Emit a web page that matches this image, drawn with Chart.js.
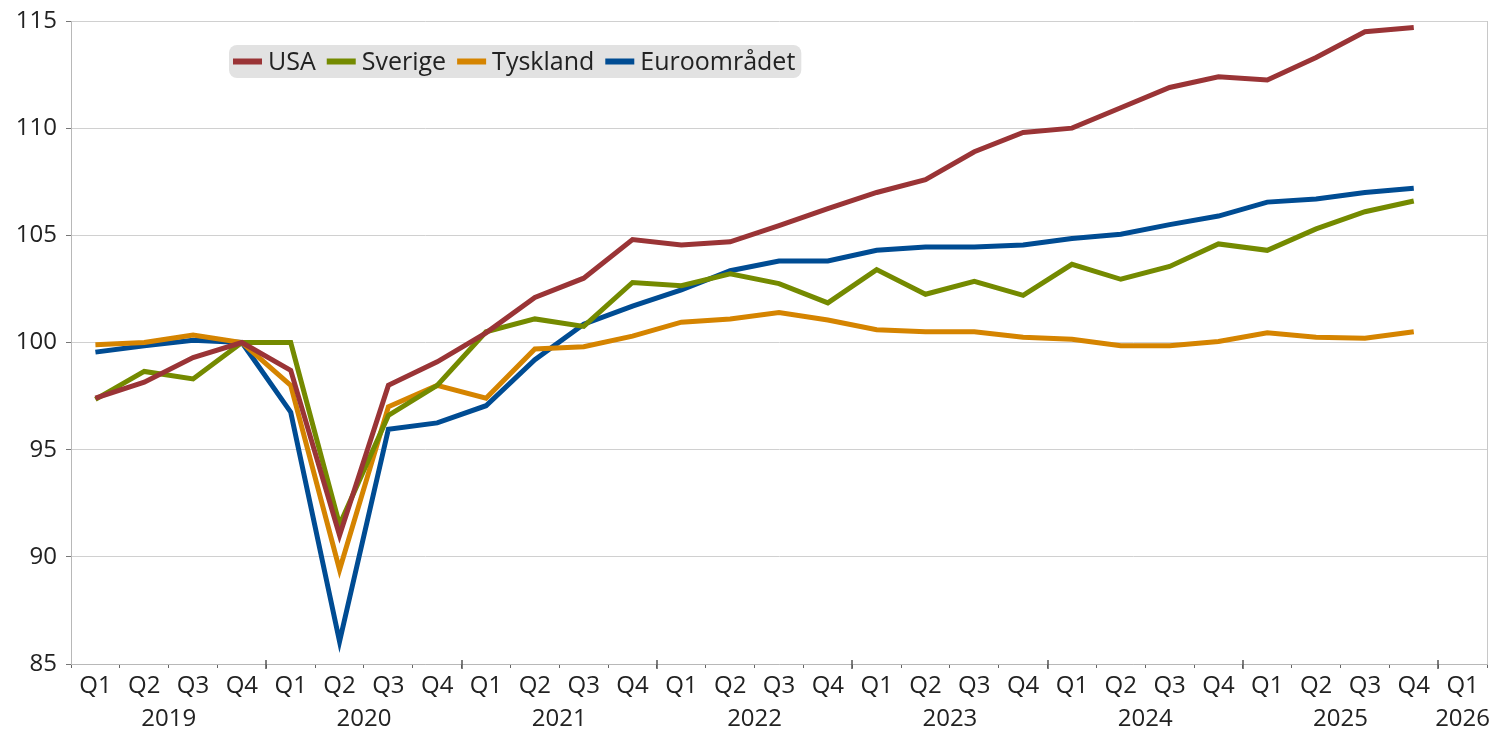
<!DOCTYPE html>
<html>
<head>
<meta charset="utf-8">
<script src="https://cdn.jsdelivr.net/npm/chart.js@4.4.0/dist/chart.umd.min.js"></script>
<style>
html,body{margin:0;padding:0;background:#fff;}
#contenitore{width:1503px;height:734px;position:relative;}
</style>
</head>
<body>
<div id="contenitore"><canvas id="grafico"></canvas></div>
<script>
var kvartal = ['Q1','Q2','Q3','Q4','Q1','Q2','Q3','Q4','Q1','Q2','Q3','Q4','Q1','Q2','Q3','Q4',
               'Q1','Q2','Q3','Q4','Q1','Q2','Q3','Q4','Q1','Q2','Q3','Q4','Q1'];
var ar = ['2019','2020','2021','2022','2023','2024','2025','2026'];
var usa = [97.4, 98.15, 99.3, 100.0, 98.7, 91.0, 98.0, 99.1, 100.45, 102.1, 103.0, 104.8,
           104.55, 104.7, 105.45, 106.25, 107.0, 107.6, 108.9, 109.8, 110.0, 110.95, 111.9, 112.4,
           112.25, 113.3, 114.5, 114.7];
var sverige = [97.35, 98.65, 98.3, 100.0, 100.0, 91.5, 96.6, 98.0, 100.5, 101.1, 100.75, 102.8,
               102.65, 103.2, 102.75, 101.85, 103.4, 102.25, 102.85, 102.2, 103.65, 102.95, 103.55, 104.6,
               104.3, 105.3, 106.1, 106.6];
var tyskland = [99.9, 100.0, 100.35, 100.0, 98.0, 89.4, 97.0, 98.0, 97.4, 99.7, 99.8, 100.3,
                100.95, 101.1, 101.4, 101.05, 100.6, 100.5, 100.5, 100.25, 100.15, 99.85, 99.85, 100.05,
                100.45, 100.25, 100.2, 100.5];
var euro = [99.55, 99.85, 100.1, 100.0, 96.75, 86.05, 95.95, 96.25, 97.05, 99.2, 100.85, 101.7,
            102.45, 103.35, 103.8, 103.8, 104.3, 104.45, 104.45, 104.55, 104.85, 105.05, 105.5, 105.9,
            106.55, 106.7, 107.0, 107.2];
var yMin = 85, yMax = 115, yStep = 5;

var font = "'Open Sans', 'Noto Sans', sans-serif";
var testo = '#222222';

// anni sotto i trimestri + tacche lunghe + bordo destro
var pluginAnni = {
    id: 'anni',
    afterDraw: function (chart) {
        var ctx = chart.ctx;
        var xs = chart.scales.x;
        var area = chart.chartArea;
        var passo = xs.getPixelForValue(1) - xs.getPixelForValue(0);
        ctx.save();
        ctx.strokeStyle = '#c8c8c8';
        ctx.lineWidth = 1;
        ctx.beginPath();
        ctx.moveTo(area.right + 0.5, area.top);
        ctx.lineTo(area.right + 0.5, area.bottom);
        ctx.stroke();
        ctx.strokeStyle = '#555';
        ctx.lineWidth = 1.5;
        for (var j = 1; j < ar.length; j++) {
            var xb = Math.round(xs.getPixelForValue(j * 4) - passo / 2);
            ctx.beginPath();
            ctx.moveTo(xb, area.bottom - 4);
            ctx.lineTo(xb, area.bottom + 5);
            ctx.stroke();
        }
        ctx.fillStyle = testo;
        ctx.font = '24px ' + font;
        ctx.textAlign = 'center';
        ctx.textBaseline = 'middle';
        for (var i = 0; i < ar.length; i++) {
            var primo = i * 4;
            var ultimo = Math.min(i * 4 + 3, kvartal.length - 1);
            var cx = (xs.getPixelForValue(primo) + xs.getPixelForValue(ultimo)) / 2;
            ctx.fillText(ar[i], cx, 719);
        }
        ctx.restore();
    }
};

// legenda dentro l'area del grafico
var pluginLegenda = {
    id: 'legenda',
    afterDraw: function (chart) {
        var ctx = chart.ctx;
        var x0 = 229, y0 = 45, h = 33;
        ctx.save();
        ctx.font = '25px ' + font;
        var larg = 4;
        chart.data.datasets.forEach(function (d) {
            larg += 29 + 6 + ctx.measureText(d.label).width + 11;
        });
        larg -= 5;
        ctx.fillStyle = '#e2e2e2';
        ctx.beginPath();
        ctx.roundRect(x0, y0, larg, h, 8);
        ctx.fill();
        var x = x0 + 4;
        var yc = y0 + h / 2;
        ctx.textBaseline = 'middle';
        ctx.textAlign = 'left';
        chart.data.datasets.forEach(function (d) {
            ctx.strokeStyle = d.borderColor;
            ctx.lineWidth = 6;
            ctx.beginPath();
            ctx.moveTo(x, yc);
            ctx.lineTo(x + 29, yc);
            ctx.stroke();
            x += 29 + 6;
            ctx.fillStyle = testo;
            ctx.fillText(d.label, x, yc + 1);
            x += ctx.measureText(d.label).width + 11;
        });
        ctx.restore();
    }
};

function serie(nome, valori, colore) {
    return {
        label: nome,
        data: valori,
        borderColor: colore,
        backgroundColor: colore,
        borderWidth: 5,
        pointRadius: 0,
        tension: 0,
        fill: false
    };
}

var ctx = document.getElementById('grafico');
var grafico = new Chart(ctx, {
    type: 'line',
    data: {
        labels: kvartal,
        datasets: [
            serie('USA', usa, '#9a3436'),
            serie('Sverige', sverige, '#748a00'),
            serie('Tyskland', tyskland, '#d58400'),
            serie('Euroområdet', euro, '#004c93')
        ]
    },
    options: {
        responsive: true,
        maintainAspectRatio: false,
        animation: false,
        devicePixelRatio: 1,
        layout: { padding: { top: 20, right: 16, left: 0, bottom: 0 } },
        plugins: {
            legend: { display: false },
            title: { display: false },
            tooltip: { enabled: false }
        },
        scales: {
            x: {
                offset: true,
                afterFit: function (s) { s.height = 70; },
                grid: {
                    offset: true,
                    drawOnChartArea: false,
                    drawTicks: true,
                    tickLength: 4,
                    tickColor: '#666'
                },
                border: { display: true, color: '#b8b8b8', width: 1 },
                ticks: {
                    autoSkip: false,
                    maxRotation: 0,
                    padding: 4,
                    color: testo,
                    font: { family: font, size: 24 }
                }
            },
            y: {
                min: yMin,
                max: yMax,
                afterFit: function (s) { s.width = 71; },
                grid: {
                    color: '#d0d0d0',
                    lineWidth: 1,
                    tickLength: 5,
                    tickColor: '#777'
                },
                border: { display: true, color: '#b8b8b8', width: 1 },
                ticks: {
                    stepSize: yStep,
                    padding: 9,
                    color: testo,
                    font: { family: font, size: 24, lineHeight: 1 }
                }
            }
        }
    },
    plugins: [pluginAnni, pluginLegenda]
});
</script>
</body>
</html>
